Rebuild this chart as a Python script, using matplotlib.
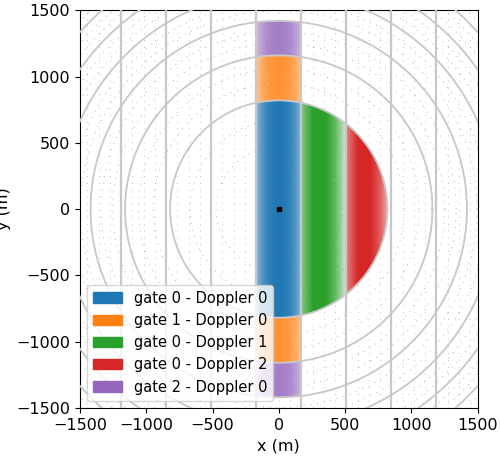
import matplotlib
matplotlib.use('Agg')
import matplotlib.pyplot as plt
import numpy as np
from matplotlib.patches import Patch

# range gate boundaries (m) and Doppler bin width (m)
gate_radii = [0, 820, 1160, 1420]
doppler_width = 340
cells = [  # (gate, doppler, color, label)
    (0, 0, 'tab:blue', 'gate 0 - Doppler 0'),
    (1, 0, 'tab:orange', 'gate 1 - Doppler 0'),
    (0, 1, 'tab:green', 'gate 0 - Doppler 1'),
    (0, 2, 'tab:red', 'gate 0 - Doppler 2'),
    (2, 0, 'tab:purple', 'gate 2 - Doppler 0'),
]

plt.rcParams['font.size'] = 11.5
fig, ax = plt.subplots(figsize=(5.0, 4.62), dpi=100)
lim = 1500
n = 600
xs = np.linspace(-lim, lim, n)
X, Y = np.meshgrid(xs, xs)
R = np.hypot(X, Y)

for g, d, col, lab in cells:
    r0, r1 = gate_radii[g], gate_radii[g + 1]
    if d == 0:
        x0, x1 = -doppler_width / 2, doppler_width / 2
    else:
        x0 = doppler_width / 2 + (d - 1) * doppler_width
        x1 = x0 + doppler_width
    mask = (R >= r0) & (R < r1) & (X >= x0) & (X < x1)
    u = (X - x0) / (x1 - x0)
    if d == 0:
        a = 0.45 + 0.55 * np.sin(np.pi * np.clip(u, 0, 1)) ** 0.6
    else:
        a = np.clip(1.15 - 1.0 * u ** 3, 0, 1) * (0.6 + 0.4 * np.clip(u * 4, 0, 1))
    if g > 0:
        a = a * 0.85
    rgba = np.zeros((n, n, 4))
    rgba[..., :3] = matplotlib.colors.to_rgb(col)
    rgba[..., 3] = np.where(mask, a, 0)
    ax.imshow(rgba, extent=(-lim, lim, -lim, lim), origin='lower',
              interpolation='bilinear', zorder=2)

th = np.linspace(0, 2 * np.pi, 721)
# fine dotted rings and lines
for k in range(1, 24):
    r = 820 * np.sqrt(k / 3)
    ax.plot(r * np.cos(th), r * np.sin(th), ls=(0, (1, 6)), color='gray',
            lw=0.7, alpha=0.6, zorder=1)
for xv in np.arange(-1530, 1600, 85):
    ax.axvline(xv, ls=(0, (1, 6)), color='gray', lw=0.7, alpha=0.5, zorder=1)
# solid range rings and Doppler boundaries
for k in range(1, 12):
    r = 820 * np.sqrt(k)
    ax.plot(r * np.cos(th), r * np.sin(th), color='#c8c8c8', lw=1.3, zorder=3)
for xv in np.arange(-1190, 1200, doppler_width):
    ax.axvline(xv, color='#c8c8c8', lw=1.6, zorder=3)

ax.plot(0, 0, 's', color='black', ms=3, zorder=5)
ax.set_xlim(-lim, lim)
ax.set_ylim(-lim, lim)
ax.set_aspect('equal')
ax.set_xlabel('x (m)')
ax.set_ylabel('y (m)')
handles = [Patch(color=c[2], label=c[3]) for c in cells]
ax.legend(handles=handles, loc='lower left', fontsize=10.5)
fig.subplots_adjust(left=0.16, right=0.955, bottom=0.105, top=0.99)
fig.savefig('out.png')
